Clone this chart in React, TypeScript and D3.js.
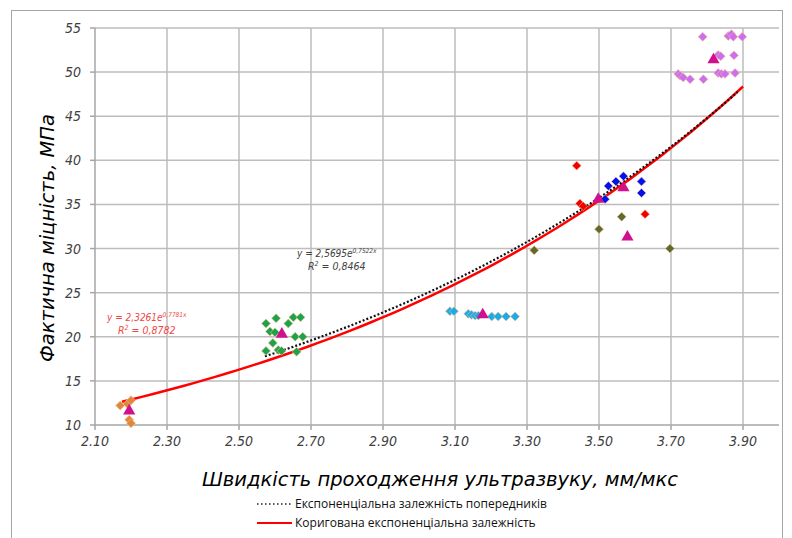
import React, { useEffect, useRef } from 'react';
import * as d3 from 'd3';

// x ticks / y ticks
const xTicks = [2.1, 2.3, 2.5, 2.7, 2.9, 3.1, 3.3, 3.5, 3.7, 3.9];
const yTicks = [10, 15, 20, 25, 30, 35, 40, 45, 50, 55];

// measured points [speed, strength]
const orangePoints = [[2.17, 12.2], [2.19, 12.4], [2.2, 12.8], [2.195, 10.6], [2.2, 10.2]];
const greenPoints = [
    [2.575, 21.5], [2.603, 22.1], [2.586, 20.6], [2.6, 20.5], [2.637, 21.5], [2.651, 22.2],
    [2.671, 22.2], [2.656, 20.0], [2.677, 20.0], [2.594, 19.3], [2.575, 18.4], [2.609, 18.5],
    [2.618, 18.4], [2.66, 18.3]
];
const cyanPoints = [
    [3.086, 22.9], [3.097, 22.9], [3.137, 22.6], [3.146, 22.5], [3.156, 22.4], [3.165, 22.4],
    [3.202, 22.3], [3.22, 22.3], [3.242, 22.3], [3.267, 22.3]
];
const bluePoints = [[3.526, 37.1], [3.547, 37.6], [3.568, 38.2], [3.618, 37.6], [3.618, 36.3], [3.517, 35.6]];
const redPoints = [[3.438, 39.4], [3.447, 35.1], [3.456, 34.8], [3.628, 33.9]];
const olivePoints = [[3.563, 33.6], [3.5, 32.2], [3.697, 30.0], [3.32, 29.8]];
const purplePoints = [
    [3.788, 54.0], [3.859, 54.1], [3.868, 54.3], [3.873, 54.0], [3.898, 54.0],
    [3.831, 51.95], [3.838, 51.8], [3.875, 51.9],
    [3.72, 49.8], [3.725, 49.6], [3.734, 49.4], [3.753, 49.2], [3.79, 49.2],
    [3.831, 49.9], [3.84, 49.8], [3.85, 49.8], [3.878, 49.9]
];
const meanPoints = [
    [2.195, 11.6], [2.619, 20.3], [3.177, 22.5], [3.498, 35.6], [3.568, 36.9], [3.579, 31.3], [3.818, 51.4]
];

// trend lines as printed on the chart: y = a * e^(b x)
const prevTrend = { a: 2.5695, b: 0.7522, from: 2.572, to: 3.885 };
const corrTrend = { a: 2.3261, b: 0.7781, from: 2.175, to: 3.9 };

const legendItems = [
    'Експоненціальна залежність попередників',
    'Коригована експоненціальна залежність'
];

const App = () => {
    const svgRef = useRef<SVGSVGElement>(null);

    useEffect(() => {
        const svg = d3.select(svgRef.current);
        svg.selectAll('*').remove();

        const x = d3.scaleLinear().domain([2.1, 4.0]).range([95, 779]);
        const y = d3.scaleLinear().domain([10, 55]).range([425, 28]);

        const tickFont = '"DejaVu Sans Condensed", "DejaVu Sans", sans-serif';

        // chart border
        svg.append('rect')
            .attr('x', 11.5).attr('y', 10.5)
            .attr('width', 771).attr('height', 540)
            .attr('fill', '#fff')
            .attr('stroke', '#a6a6a6');

        // grid
        const grid = svg.append('g').attr('stroke', '#bdbdbd').attr('stroke-width', 1.5);
        yTicks.slice(1).forEach(t => {
            grid.append('line')
                .attr('x1', x(2.1)).attr('x2', x(4.0))
                .attr('y1', y(t)).attr('y2', y(t));
        });
        xTicks.slice(1).forEach(t => {
            grid.append('line')
                .attr('x1', x(t)).attr('x2', x(t))
                .attr('y1', y(10)).attr('y2', y(55));
        });

        // axes
        const axes = svg.append('g').attr('stroke', '#a6a6a6').attr('stroke-width', 1.5);
        axes.append('line').attr('x1', x(2.1)).attr('x2', x(4.0)).attr('y1', y(10)).attr('y2', y(10));
        axes.append('line').attr('x1', x(2.1)).attr('x2', x(2.1)).attr('y1', y(10)).attr('y2', y(55));
        yTicks.forEach(t => {
            axes.append('line').attr('x1', x(2.1) - 5).attr('x2', x(2.1)).attr('y1', y(t)).attr('y2', y(t));
        });
        xTicks.forEach(t => {
            axes.append('line').attr('x1', x(t)).attr('x2', x(t)).attr('y1', y(10)).attr('y2', y(10) + 5);
        });

        // tick labels
        yTicks.forEach(t => {
            svg.append('text')
                .attr('x', 81).attr('y', y(t) + 5)
                .attr('text-anchor', 'end')
                .style('font-family', tickFont).style('font-style', 'italic')
                .style('font-size', '14px').attr('fill', '#404040')
                .text(t);
        });
        xTicks.forEach(t => {
            svg.append('text')
                .attr('x', x(t)).attr('y', 446)
                .attr('text-anchor', 'middle')
                .style('font-family', tickFont).style('font-style', 'italic')
                .style('font-size', '14px').attr('fill', '#404040')
                .text(t.toFixed(2));
        });

        // axis titles
        svg.append('text')
            .attr('transform', 'translate(54,238) rotate(-90)')
            .attr('text-anchor', 'middle')
            .style('font-family', '"DejaVu Sans", sans-serif').style('font-style', 'italic')
            .style('font-size', '19.5px').attr('fill', '#000')
            .text('Фактична міцність, МПа');
        svg.append('text')
            .attr('x', 440).attr('y', 486)
            .attr('text-anchor', 'middle')
            .style('font-family', '"DejaVu Sans", sans-serif').style('font-style', 'italic')
            .style('font-size', '19.5px').attr('fill', '#000')
            .text('Швидкість проходження ультразвуку, мм/мкс');

        // trend lines
        const line = d3.line<number>().x(d => x(d[0])).y(d => y(d[1]));
        const trendPoints = (tr: { a: number, b: number, from: number, to: number }) =>
            d3.range(0, 61).map(i => {
                const v = tr.from + (tr.to - tr.from) * i / 60;
                return [v, tr.a * Math.exp(tr.b * v)];
            });

        svg.append('path')
            .attr('d', line(trendPoints(corrTrend) as any))
            .attr('fill', 'none').attr('stroke', '#ff0000').attr('stroke-width', 2.5);
        svg.append('path')
            .attr('d', line(trendPoints(prevTrend) as any))
            .attr('fill', 'none').attr('stroke', '#111').attr('stroke-width', 2.2)
            .attr('stroke-dasharray', '2,2');

        // markers - square turned 45deg, like Excel's diamond
        const diamond = d3.symbol().type(d3.symbolSquare).size(40);
        const drawDiamonds = (pts: number[][], color: string) => {
            svg.append('g')
                .selectAll('path')
                .data(pts)
                .enter()
                .append('path')
                .attr('d', diamond)
                .attr('transform', d => `translate(${x(d[0])},${y(d[1])}) rotate(45)`)
                .attr('fill', color)
                .attr('stroke', '#f3c08a')
                .attr('stroke-width', 0.8)
                .attr('stroke-opacity', 0.7);
        };
        drawDiamonds(orangePoints, '#e0883a');
        drawDiamonds(greenPoints, '#1fa34a');
        drawDiamonds(cyanPoints, '#1eaae6');
        drawDiamonds(bluePoints, '#0010f0');
        drawDiamonds(redPoints, '#f00000');
        drawDiamonds(olivePoints, '#5f6a2c');
        drawDiamonds(purplePoints, '#cd6ef0');

        svg.append('g')
            .selectAll('path')
            .data(meanPoints)
            .enter()
            .append('path')
            .attr('d', d3.symbol().type(d3.symbolTriangle).size(64))
            .attr('transform', d => `translate(${x(d[0])},${y(d[1])})`)
            .attr('fill', '#d0108c');

        // equations
        const drawEquation = (px: number, py: number, a: string, b: string, r2: string, color: string) => {
            const g = svg.append('g')
                .style('font-family', tickFont).style('font-style', 'italic')
                .attr('fill', color);
            const t = g.append('text').attr('x', px).attr('y', py).style('font-size', '10px');
            t.append('tspan').text(`y = ${a}e`);
            t.append('tspan').attr('dy', -4).style('font-size', '6.5px').text(`${b}x`);
            const r = g.append('text').attr('x', px + 11).attr('y', py + 13).style('font-size', '10.5px');
            r.append('tspan').text('R');
            r.append('tspan').attr('dy', -4).style('font-size', '7px').text('2');
            r.append('tspan').attr('dy', 4).text(` = ${r2}`);
        };
        drawEquation(297, 257, '2,5695', '0,7522', '0,8464', '#404040');
        drawEquation(107, 321, '2,3261', '0,7781', '0,8782', '#f04545');

        // legend
        const legend = svg.append('g');
        legend.append('line')
            .attr('x1', 257).attr('x2', 292).attr('y1', 504).attr('y2', 504)
            .attr('stroke', '#222').attr('stroke-width', 1.5).attr('stroke-dasharray', '1.5,2.5');
        legend.append('line')
            .attr('x1', 257).attr('x2', 292).attr('y1', 523).attr('y2', 523)
            .attr('stroke', '#ff0000').attr('stroke-width', 2);
        legendItems.forEach((label, i) => {
            legend.append('text')
                .attr('x', 295).attr('y', 508 + i * 19)
                .style('font-family', '"Open Sans", sans-serif')
                .style('font-size', '12px').attr('fill', '#111')
                .text(label);
        });
    }, []);

    return (
        <svg ref={svgRef} width={792} height={538}
            style={{ position: 'absolute', left: 0, top: 0, background: '#fff' }} />
    );
};

export default App;
